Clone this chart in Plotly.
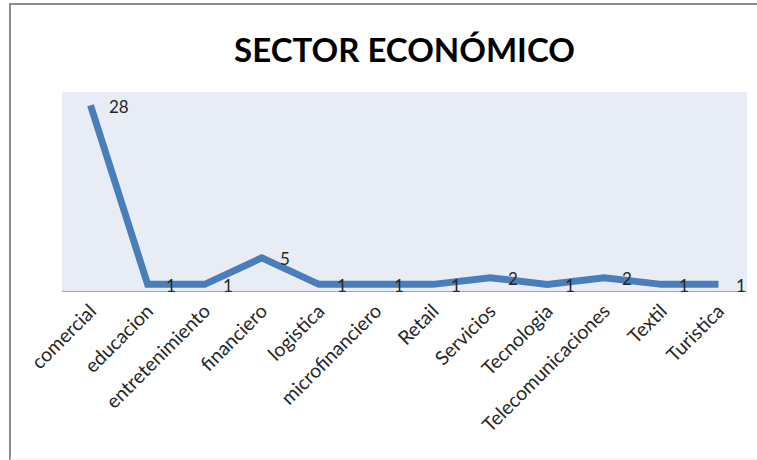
import plotly.graph_objects as go

categories = ["comercial", "educacion", "entretenimiento", "financiero", "logistica",
              "microfinanciero", "Retail", "Servicios", "Tecnologia",
              "Telecomunicaciones", "Textil", "Turistica"]
values = [28, 1, 1, 5, 1, 1, 1, 2, 1, 2, 1, 1]

fig = go.Figure()
fig.add_trace(go.Scatter(
    x=categories, y=values, mode="lines",
    line=dict(color="#4A7EBB", width=7),
    cliponaxis=False, hoverinfo="skip",
))

for c, v in zip(categories, values):
    fig.add_annotation(x=c, y=v, text=str(v), showarrow=False,
                       xanchor="left", yanchor="middle", xshift=16, yshift=-1,
                       font=dict(family="Lato", size=17, color="#262626"))

W, H = 757, 460
L, R, T, B = 62, 10, 92, 169
pw, ph = W - L - R, H - T - B

def px(x):
    return (x - L) / pw

def py(y):
    return (H - B - y) / ph

fig.update_layout(
    width=W, height=H,
    margin=dict(l=L, r=R, t=T, b=B),
    paper_bgcolor="white", plot_bgcolor="#E8EDF5",
    showlegend=False,
    title=dict(text="<b>SECTOR ECONÓMICO</b>", x=0.5, xref="paper", y=1 - 50 / H, yref="container",
               yanchor="middle", xanchor="center",
               font=dict(family="Lato", size=33, color="black")),
    xaxis=dict(type="category", showgrid=False, zeroline=False, showline=True,
               linecolor="#A6A6A6", linewidth=1, ticks="", tickangle=-45,
               tickfont=dict(family="Lato", size=19.5, color="#262626"),
               range=[-0.5, len(categories) - 0.5]),
    yaxis=dict(range=[0, 30], showgrid=False, zeroline=False, showticklabels=False,
               showline=False, ticks=""),
    shapes=[
        dict(type="line", xref="paper", yref="paper",
             x0=px(9), x1=px(757), y0=py(4), y1=py(4),
             line=dict(color="#8C8C8C", width=2), layer="below"),
        dict(type="line", xref="paper", yref="paper",
             x0=px(10), x1=px(10), y0=py(3), y1=py(460),
             line=dict(color="#8C8C8C", width=2), layer="below"),
        dict(type="line", xref="paper", yref="paper",
             x0=px(10), x1=px(757), y0=py(459), y1=py(459),
             line=dict(color="#EEEEEE", width=1), layer="below"),
    ],
)

fig.write_html("out.html")
